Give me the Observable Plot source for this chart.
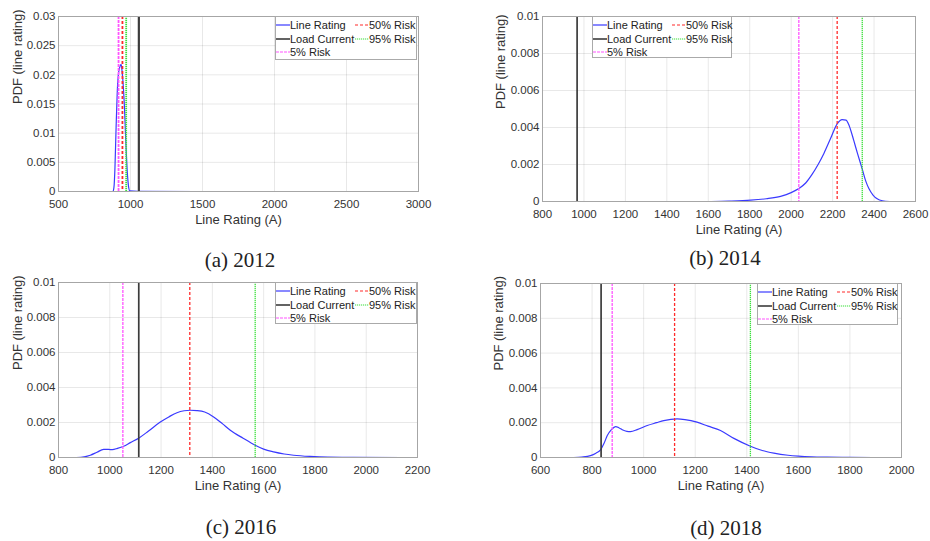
<!DOCTYPE html>
<html><head><meta charset="utf-8">
<script src="https://cdn.jsdelivr.net/npm/d3@7"></script>
<script src="https://cdn.jsdelivr.net/npm/@observablehq/plot@0.6"></script>
<style>
body{margin:0;background:#fff;}
#fig{position:relative;width:930px;height:541px;overflow:hidden;background:#fff;font-family:"Liberation Sans",Arial,sans-serif;}
.panel{position:absolute;}
.legend{position:absolute;border:1px solid #aaa;background:#fff;box-sizing:border-box;font-size:11px;color:#222;}
.item{position:absolute;white-space:nowrap;line-height:12px;height:12px;}
.item svg{position:absolute;left:0;top:4px;}
.caption{position:absolute;font-family:"Liberation Serif","Times New Roman",serif;font-size:21px;line-height:21px;color:#222;text-align:center;width:200px;white-space:nowrap;}
</style></head><body><div id="fig"></div>
<script>
// ---------- data ----------
const years = [2012, 2014, 2016, 2018];
const captions = ["(a) 2012", "(b) 2014", "(c) 2016", "(d) 2018"];
const xLabel = "Line Rating (A)";
const yLabel = "PDF (line rating)";
const legendLabels = ["Line Rating", "Load Current", "5% Risk", "50% Risk", "95% Risk"];

const xTicks2012 = [500, 1000, 1500, 2000, 2500, 3000];
const xTicks2014 = [800, 1000, 1200, 1400, 1600, 1800, 2000, 2200, 2400, 2600];
const xTicks2016 = [800, 1000, 1200, 1400, 1600, 1800, 2000, 2200];
const xTicks2018 = [600, 800, 1000, 1200, 1400, 1600, 1800, 2000];
const yTicks2012 = [0, 0.005, 0.01, 0.015, 0.02, 0.025, 0.03];
const yTicksOther = [0, 0.002, 0.004, 0.006, 0.008, 0.01];

const rating2012 = [870, 878, 885, 892, 900, 908, 918, 928, 935, 942, 950, 958, 965, 972, 980, 988, 995, 1050, 1500, 2000, 2500, 2840];
const pdf2012    = [0, 0, 0.0007, 0.004, 0.011, 0.017, 0.0205, 0.0215, 0.0218, 0.0205, 0.018, 0.0145, 0.01, 0.006, 0.0025, 0.0006, 0.0001, 0.00002, 0, 0, 0, 0];

const rating2014 = [1615, 1700, 1805, 1880, 1949, 2000, 2037, 2070, 2100, 2130, 2158, 2190, 2222, 2246, 2265, 2280, 2302, 2320, 2343, 2360, 2375, 2395, 2415, 2440, 2475];
const pdf2014    = [0, 0.00002, 0.00007, 0.00015, 0.00028, 0.00048, 0.0007, 0.001, 0.00145, 0.002, 0.0026, 0.0034, 0.0042, 0.00443, 0.0044, 0.0041, 0.0033, 0.0026, 0.00175, 0.0011, 0.0007, 0.00035, 0.00015, 0.00004, 0];

const rating2016 = [870, 900, 924, 950, 976, 995, 1010, 1030, 1054, 1080, 1114, 1150, 1197, 1230, 1262, 1290, 1314, 1340, 1370, 1405, 1440, 1470, 1520, 1567, 1600, 1639, 1680, 1717, 1780, 1850, 1950, 2139];
const pdf2016    = [0, 0.00004, 0.00013, 0.0003, 0.00046, 0.00046, 0.00045, 0.00052, 0.00064, 0.00085, 0.00112, 0.0015, 0.00203, 0.00232, 0.00256, 0.00267, 0.0027, 0.00268, 0.0026, 0.00232, 0.00192, 0.00156, 0.0011, 0.0007, 0.00048, 0.00032, 0.0002, 0.00013, 0.00006, 0.00002, 0.00001, 0];

const rating2018 = [729, 760, 794, 815, 833, 846, 859, 875, 891, 905, 917, 935, 949, 975, 1014, 1050, 1078, 1130, 1160, 1207, 1250, 1298, 1350, 1414, 1460, 1505, 1560, 1600, 1650, 1712, 1800, 1889];
const pdf2018    = [0, 0.00003, 0.00011, 0.00025, 0.00044, 0.0008, 0.00126, 0.0016, 0.00178, 0.0017, 0.00159, 0.0015, 0.00149, 0.0016, 0.00184, 0.002, 0.00212, 0.00222, 0.00218, 0.00203, 0.0018, 0.00155, 0.0011, 0.00065, 0.0004, 0.00025, 0.00013, 0.00008, 0.00004, 0.00002, 0.00001, 0];

const loadCurrent = [1058, 967, 1113, 835];
const risk5  = [917, 2037, 1051, 878];
const risk50 = [944, 2222, 1312, 1120];
const risk95 = [970, 2343, 1567, 1414];

const ratings = [rating2012, rating2014, rating2016, rating2018];
const pdfs = [pdf2012, pdf2014, pdf2016, pdf2018];
const xTicks = [xTicks2012, xTicks2014, xTicks2016, xTicks2018];
const yTicks = [yTicks2012, yTicksOther, yTicksOther, yTicksOther];

// ---------- layout / style ----------
const layout = [
  {left: 0,   top: 0,   width: 465, height: 240, ml: 58, mr: 47, mt: 16, mb: 49, ylabDx: -37, xlabDx: 0,
   legend: {left: 275, top: 16, w: 142, h: 44}, cap: {cx: 240, top: 250}, lw: 1.8},
  {left: 465, top: 0,   width: 465, height: 240, ml: 77, mr: 15, mt: 16, mb: 39, ylabDx: -38, xlabDx: 10,
   legend: {left: 592, top: 16, w: 140, h: 42}, cap: {cx: 725, top: 248}, lw: 1.3},
  {left: 0,   top: 270, width: 465, height: 230, ml: 58, mr: 48, mt: 12, mb: 43, ylabDx: -37, xlabDx: 0,
   legend: {left: 275, top: 282, w: 142, h: 42}, cap: {cx: 241, top: 517}, lw: 1.3},
  {left: 465, top: 270, width: 465, height: 230, ml: 75, mr: 29, mt: 13, mb: 43, ylabDx: -38, xlabDx: 0,
   legend: {left: 757, top: 283, w: 141, h: 42}, cap: {cx: 726, top: 518}, lw: 1.3}
];
const styles = [
  {stroke: "#3a3aff", dash: null, w: 1.2},
  {stroke: "#3c3c3c", dash: null, w: 1.8},
  {stroke: "#ff55ff", dash: "3,1", w: 1.3},
  {stroke: "#ff2a2a", dash: "3,2", w: 1.3},
  {stroke: "#3be03b", dash: "1.2,0.8", w: 1.3}
];

const fig = document.getElementById("fig");

years.forEach((yr, i) => {
  const L = layout[i];
  const xt = xTicks[i], yt = yTicks[i];
  const rulesW = L.lw;
  const chart = Plot.plot({
    width: L.width, height: L.height,
    marginLeft: L.ml, marginRight: L.mr, marginTop: L.mt, marginBottom: L.mb,
    x: {domain: [xt[0], xt[xt.length - 1]], label: null},
    y: {domain: [yt[0], yt[yt.length - 1]], label: null},
    style: {fontFamily: "'Liberation Sans', Arial, sans-serif", fontSize: "11.5px", color: "#333", background: "transparent", overflow: "visible"},
    marks: [
      Plot.gridX(xt, {stroke: "#000", strokeOpacity: 0.09}),
      Plot.gridY(yt, {stroke: "#000", strokeOpacity: 0.09}),
      Plot.axisX(xt, {tickSize: 0, tickPadding: 8, tickFormat: d => String(d), label: null}),
      Plot.axisY(yt, {tickSize: 0, tickPadding: 3, tickFormat: d => String(d), label: null}),
      Plot.line(ratings[i], {x: ratings[i], y: pdfs[i], stroke: styles[0].stroke, strokeWidth: styles[0].w, curve: "monotone-x"}),
      Plot.ruleX([loadCurrent[i]], {stroke: styles[1].stroke, strokeWidth: rulesW + 0.4}),
      Plot.ruleX([risk5[i]], {stroke: styles[2].stroke, strokeWidth: rulesW, strokeDasharray: styles[2].dash}),
      Plot.ruleX([risk50[i]], {stroke: styles[3].stroke, strokeWidth: rulesW, strokeDasharray: styles[3].dash}),
      Plot.ruleX([risk95[i]], {stroke: styles[4].stroke, strokeWidth: rulesW, strokeDasharray: styles[4].dash}),
      Plot.frame({stroke: "#a6a6a6"}),
      Plot.text([xLabel], {text: d => d, frameAnchor: "bottom", lineAnchor: "top", dy: 23, dx: L.xlabDx, fontSize: 13, fill: "#333"}),
      Plot.text([yLabel], {text: d => d, frameAnchor: "left", lineAnchor: "bottom", rotate: -90, dx: L.ylabDx, fontSize: 13, fill: "#333"})
    ]
  });
  const wrap = document.createElement("div");
  wrap.className = "panel";
  wrap.style.left = L.left + "px";
  wrap.style.top = L.top + "px";
  wrap.appendChild(chart);
  fig.appendChild(wrap);

  // legend
  const lg = document.createElement("div");
  lg.className = "legend";
  lg.style.left = L.legend.left + "px";
  lg.style.top = L.legend.top + "px";
  lg.style.width = L.legend.w + "px";
  lg.style.height = L.legend.h + "px";
  const pos = [[0, 8], [0, 21.5], [0, 35], [79, 8], [79, 21.5]];
  legendLabels.forEach((lab, k) => {
    const it = document.createElement("div");
    it.className = "item";
    it.style.left = pos[k][0] + "px";
    it.style.top = (pos[k][1] - 6) + "px";
    const s = styles[k];
    it.innerHTML = `<svg width="14" height="4"><line x1="0" y1="2" x2="14" y2="2" stroke="${s.stroke}" stroke-width="${k === 1 ? 1.6 : 1.2}" ${s.dash ? `stroke-dasharray="${s.dash}"` : ""}/></svg><span style="padding-left:14px">${lab}</span>`;
    lg.appendChild(it);
  });
  fig.appendChild(lg);

  // caption
  const cap = document.createElement("div");
  cap.className = "caption";
  cap.style.left = (L.cap.cx - 100) + "px";
  cap.style.top = L.cap.top + "px";
  cap.textContent = captions[i];
  fig.appendChild(cap);
});
</script></body></html>
